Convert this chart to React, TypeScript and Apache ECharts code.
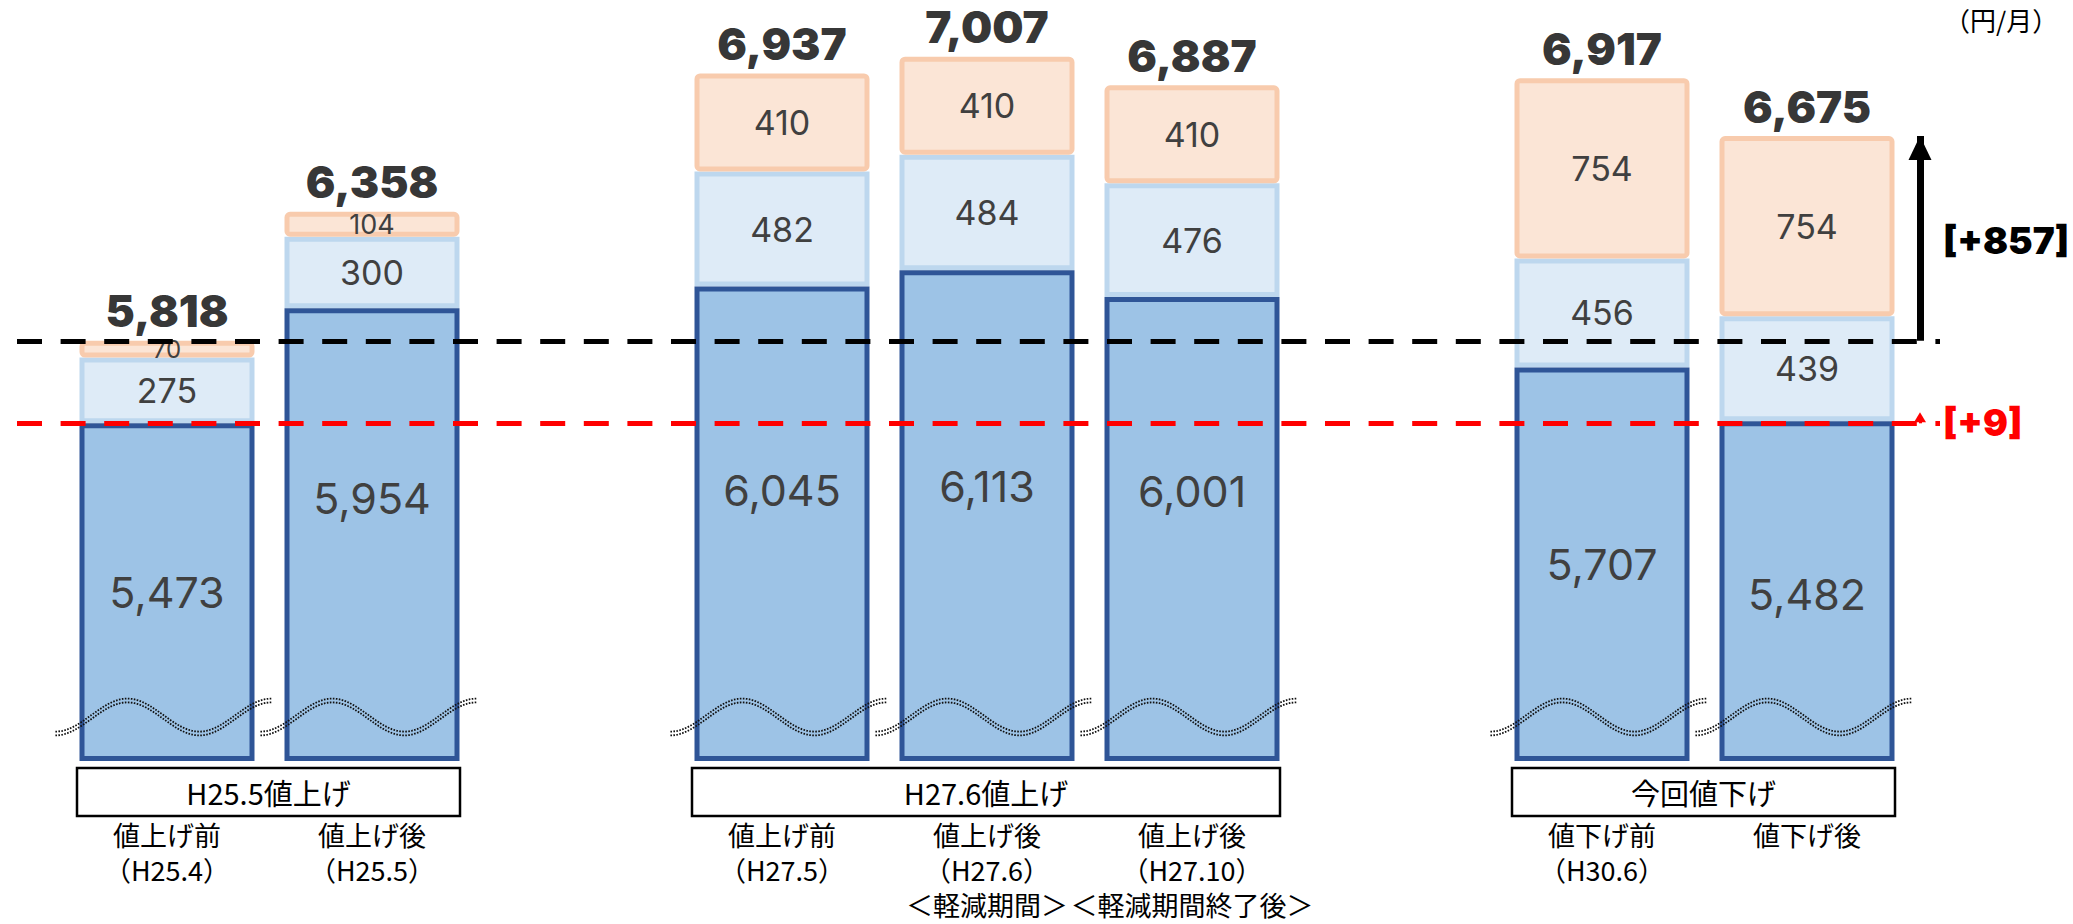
import React, { useEffect, useRef } from 'react';
import * as echarts from 'echarts';

// ---------------- data ----------------
const groupNames = ['H25.5値上げ', 'H27.6値上げ', '今回値下げ'];
const categories = [
  '値上げ前\n（H25.4）',
  '値上げ後\n（H25.5）',
  '値上げ前\n（H27.5）',
  '値上げ後\n（H27.6）\n＜軽減期間＞',
  '値上げ後\n（H27.10）\n＜軽減期間終了後＞',
  '値下げ前\n（H30.6）',
  '値下げ後',
];
const categoryGroup = [0, 0, 1, 1, 1, 2, 2];
const baseCharge = [5473, 5954, 6045, 6113, 6001, 5707, 5482];
const fuelAdjustment = [275, 300, 482, 484, 476, 456, 439];
const renewableLevy = [70, 104, 410, 410, 410, 754, 754];
const unitLabel = '（円/月）';

// ---------------- styles ----------------
const darkLabelOffsetY = [0, -37, -34, -30, -38, 0, 3];
const levyLabelSize = [24, 27, 34, 34, 34, 34, 34];
const NUM_FONT = 'Inter, "Noto Sans", sans-serif';
const JP_FONT = '"Noto Sans CJK JP", sans-serif';
const Y_MIN = 4060;
const Y_MAX = 7240;
const BAR_W = 175;
const ARROW_X = 0.9896;

const fmt = (v: any) => Number(v).toLocaleString('en-US');

// slots with a spacer between groups
const slots: number[] = [];
let slotCursor = 0;
categories.forEach((_, i) => {
  if (i > 0 && categoryGroup[i] !== categoryGroup[i - 1]) slotCursor++;
  slots.push(slotCursor);
  slotCursor++;
});
const slotCount = slotCursor;
const xData: string[] = Array(slotCount).fill('');
slots.forEach((s, i) => (xData[s] = categories[i]));
function spread(arr: any[]) {
  const out: any[] = Array(slotCount).fill('-');
  slots.forEach((s, i) => (out[s] = arr[i]));
  return out;
}
const totals = baseCharge.map((v, i) => v + fuelAdjustment[i] + renewableLevy[i]);
const groupRanges = groupNames.map((_, g) => {
  const idx = slots.filter((_, i) => categoryGroup[i] === g);
  return [Math.min(...idx), Y_MIN, Math.max(...idx)];
});
const refTotal = totals[0];
const refBase = baseCharge[0];
const newTotal = totals[totals.length - 1];
const newBase = baseCharge[baseCharge.length - 1];

export default function App() {
  const ref = useRef<HTMLDivElement>(null);
  useEffect(() => {
    const chart = echarts.init(ref.current!, null, { renderer: 'svg' });
    const option: any = {
      animation: false,
      backgroundColor: '#ffffff',
      grid: [
        { left: 64.5, width: 205 * slotCount, top: 1, bottom: 163 },
        { left: 17, right: 133, top: 1, bottom: 163 },
      ],
      xAxis: [
        {
          type: 'category',
          gridIndex: 0,
          data: xData,
          axisLine: { show: false },
          axisTick: { show: false },
          axisLabel: {
            interval: 0,
            margin: 56,
            fontSize: 27,
            lineHeight: 35,
            color: '#000',
            fontFamily: JP_FONT,
          },
        },
        { type: 'value', gridIndex: 1, min: 0, max: 1, show: false },
      ],
      yAxis: [
        { type: 'value', gridIndex: 0, min: Y_MIN, max: Y_MAX, startValue: Y_MIN, show: false, splitLine: { show: false } },
        { type: 'value', gridIndex: 1, min: Y_MIN, max: Y_MAX, show: false, splitLine: { show: false } },
      ],
      series: [
        {
          type: 'bar',
          name: '基本料金・電力量料金',
          stack: 'total',
          barWidth: BAR_W,
          z: 3,
          data: spread(baseCharge.map((v, i) => ({ value: v, label: { offset: [0, darkLabelOffsetY[i]] } }))),
          itemStyle: { color: '#9DC3E6', borderColor: '#2F5597', borderWidth: 5 },
          label: {
            show: true,
            position: 'inside',
            formatter: (p: any) => fmt(p.value),
            fontSize: 43,
            color: '#404040',
            fontFamily: NUM_FONT,
          },
        },
        {
          type: 'bar',
          name: '燃料費調整額',
          stack: 'total',
          barWidth: BAR_W,
          z: 2,
          data: spread(fuelAdjustment),
          itemStyle: { color: '#DEEBF7', borderColor: '#BDD7EE', borderWidth: 5 },
          label: {
            show: true,
            position: 'inside',
            formatter: (p: any) => fmt(p.value),
            fontSize: 34,
            color: '#404040',
            fontFamily: NUM_FONT,
          },
        },
        {
          type: 'bar',
          name: '再エネ賦課金',
          stack: 'total',
          barWidth: BAR_W,
          z: 3,
          data: spread(renewableLevy.map((v, i) => ({ value: v, label: { fontSize: levyLabelSize[i] } }))),
          itemStyle: { color: '#FBE5D6', borderColor: '#F8CBAD', borderWidth: 5, borderRadius: 3 },
          label: {
            show: true,
            position: 'inside',
            formatter: (p: any) => fmt(p.value),
            fontSize: 34,
            color: '#404040',
            fontFamily: NUM_FONT,
          },
        },
        {
          type: 'scatter',
          name: '合計',
          data: spread(totals),
          symbolSize: 1,
          itemStyle: { color: 'rgba(0,0,0,0)' },
          z: 6,
          silent: true,
          label: {
            show: true,
            position: 'top',
            distance: 7,
            formatter: (p: any) => fmt(Array.isArray(p.value) ? p.value[1] : p.value),
            fontSize: 44,
            fontWeight: 900,
            color: '#000',
            fontFamily: NUM_FONT,
          },
        },
        {
          type: 'custom',
          name: 'wave',
          z: 7,
          silent: true,
          data: slots.map((s) => [s, Y_MIN]),
          renderItem: (params: any, api: any) => {
            const p = api.coord([api.value(0), Y_MIN]);
            const cx = p[0];
            const by = p[1];
            const bw = 180;
            const L = cx - 0.62 * bw;
            const R = cx + 0.58 * bw;
            const mk = (dy: number) => {
              const pts: number[][] = [];
              for (let k = 0; k <= 90; k++) {
                const t = k / 90;
                pts.push([L + t * (R - L), by - 44 + 16.5 * Math.cos(3 * Math.PI * t) + dy]);
              }
              return {
                type: 'polyline',
                shape: { points: pts },
                style: { stroke: '#111', fill: null, lineWidth: 1.8, lineDash: [1.6, 1.4] },
              };
            };
            return { type: 'group', children: [mk(-1.9), mk(1.9)] };
          },
        },
        {
          type: 'custom',
          name: 'groups',
          z: 7,
          silent: true,
          data: groupRanges,
          renderItem: (params: any, api: any) => {
            const p0 = api.coord([api.value(0), Y_MIN]);
            const p1 = api.coord([api.value(2), Y_MIN]);
            const x0 = p0[0] - 90;
            const x1 = p1[0] + 88;
            const y0 = p0[1] + 7;
            const h = 48;
            return {
              type: 'group',
              children: [
                {
                  type: 'rect',
                  shape: { x: x0, y: y0, width: x1 - x0, height: h },
                  style: { fill: '#fff', stroke: '#000', lineWidth: 2.5 },
                },
                {
                  type: 'text',
                  x: (x0 + x1) / 2,
                  y: y0 + h / 2,
                  style: {
                    text: groupNames[params.dataIndex],
                    fontSize: 29,
                    fontFamily: JP_FONT,
                    fill: '#000',
                    align: 'center',
                    verticalAlign: 'middle',
                  },
                },
              ],
            };
          },
        },
        {
          type: 'line',
          name: 'ref',
          xAxisIndex: 1,
          yAxisIndex: 1,
          data: [],
          silent: true,
          z: 8,
          markLine: {
            silent: true,
            symbol: ['none', 'none'],
            label: { show: false },
            emphasis: { disabled: true },
            data: [
              [
                { coord: [0, refTotal], lineStyle: { color: '#000', width: 5, type: [25, 18.6], cap: 'butt' } },
                { coord: [1, refTotal] },
              ],
              [
                { coord: [0, refBase], lineStyle: { color: '#FF0000', width: 5, type: [25, 18.6], cap: 'butt' } },
                { coord: [1, refBase] },
              ],
              [
                { coord: [ARROW_X, refTotal], lineStyle: { color: '#000', width: 7, type: 'solid' } },
                { coord: [ARROW_X, newTotal], symbol: 'triangle', symbolSize: [23, 24], symbolOffset: [0, '50%'] },
              ],
              [
                { coord: [ARROW_X, refBase], lineStyle: { color: '#FF0000', width: 3, type: 'solid' } },
                { coord: [ARROW_X, newBase], symbol: 'triangle', symbolSize: [12, 10], symbolOffset: [0, '-40%'] },
              ],
            ],
          },
        },
      ],
      graphic: [
        {
          type: 'text',
          x: 1943,
          y: 240,
          style: {
            text: `[+${newTotal - refTotal}]`,
            fontSize: 37,
            fontWeight: 900,
            fontFamily: NUM_FONT,
            fill: '#000',
            align: 'left',
            verticalAlign: 'middle',
          },
        },
        {
          type: 'text',
          x: 1943,
          y: 422,
          style: {
            text: `[+${newBase - refBase}]`,
            fontSize: 37,
            fontWeight: 900,
            fontFamily: NUM_FONT,
            fill: '#FF0000',
            align: 'left',
            verticalAlign: 'middle',
          },
        },
        {
          type: 'text',
          x: 1944,
          y: 19,
          style: {
            text: unitLabel,
            fontSize: 26,
            fontFamily: JP_FONT,
            fill: '#000',
            align: 'left',
            verticalAlign: 'middle',
          },
        },
      ],
    };
    chart.setOption(option);
    return () => chart.dispose();
  }, []);
  return (
    <div
      ref={ref}
      style={{ position: 'fixed', left: 0, top: 0, width: '2073px', height: '924px', background: '#fff' }}
    />
  );
}
